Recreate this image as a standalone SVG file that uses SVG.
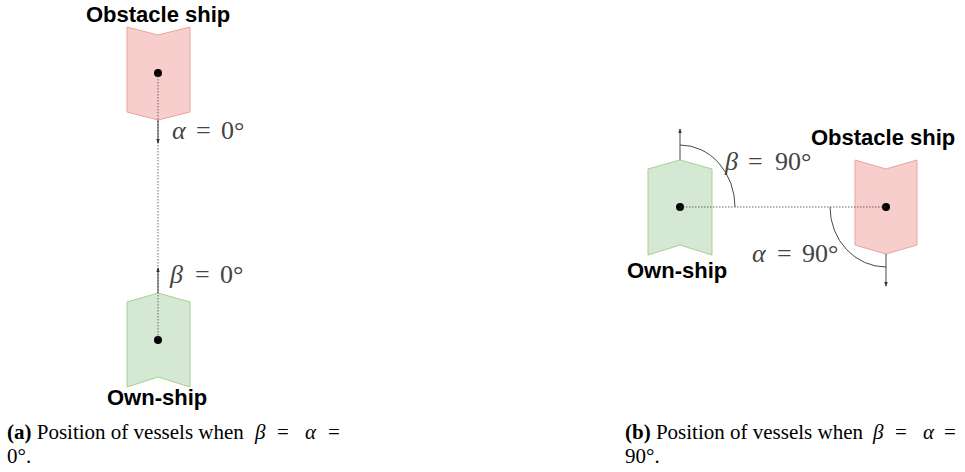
<svg xmlns="http://www.w3.org/2000/svg" width="965" height="472" viewBox="0 0 965 472">
<style>
.red{fill:#f8cecc;stroke:#e8a3a1;stroke-width:1}
.green{fill:#d5e8d4;stroke:#a9d08e;stroke-width:1}
.dot{fill:#000}
.dash{stroke:#444;stroke-width:0.8;stroke-dasharray:1.5 1.5;fill:none}
.ln{stroke:#333;stroke-width:0.9;fill:none}
.lbl{font-family:"Liberation Sans",Arial,sans-serif;font-weight:bold;font-size:22px;fill:#000}
.math{font-family:"Liberation Serif","DejaVu Serif",serif;font-size:26px;fill:#444}
.cap{font-family:"Liberation Serif","Times New Roman",serif;font-size:21px;fill:#000}
.it{font-style:italic}
</style>
<defs>
<marker id="ah" viewBox="0 0 6 6" refX="5" refY="3" markerWidth="5" markerHeight="5" orient="auto" markerUnits="userSpaceOnUse">
<path d="M0,0.8 L6,3 L0,5.2 Z" fill="#333"/>
</marker>
</defs>
<g id="obstacle-a">
<polygon class="red" points="127,27 158,35 190,27 190,112 158,120 127,112"/>
<circle class="dot" cx="158" cy="73" r="4"/>
<text class="lbl" x="86" y="22">Obstacle ship</text>
</g>
<g id="own-a">
<polygon class="green" points="127,302 158,293 190,302 190,387 158,377 127,387"/>
<circle class="dot" cx="158" cy="340" r="4"/>
<text class="lbl" x="107" y="405">Own-ship</text>
</g>
<g id="own-b">
<polygon class="green" points="648,169 680,160 712,169 712,255 680,245 648,255"/>
<circle class="dot" cx="680" cy="207" r="4"/>
<text class="lbl" x="627" y="278">Own-ship</text>
</g>
<g id="obstacle-b">
<polygon class="red" points="855,160 886,169 917,160 917,245 886,254 855,245"/>
<circle class="dot" cx="886" cy="207" r="4"/>
<text class="lbl" x="811" y="145">Obstacle ship</text>
</g>
<g id="connectors">
<line class="dash" x1="158" y1="73" x2="158" y2="340"/>
<line class="ln" x1="158" y1="120" x2="158" y2="143" marker-end="url(#ah)"/>
<line class="ln" x1="158" y1="293" x2="158" y2="268" marker-end="url(#ah)"/>
<line class="dash" x1="680" y1="207" x2="886" y2="207"/>
<line class="ln" x1="680" y1="160" x2="680" y2="129" marker-end="url(#ah)"/>
<line class="ln" x1="886" y1="254" x2="886" y2="286" marker-end="url(#ah)"/>
<path class="ln" d="M680,145 A55,62 0 0 1 735,207"/>
<path class="ln" d="M830,207 A56,60 0 0 0 886,267"/>
</g>
<g id="labels">
<text class="math" y="139"><tspan class="it" x="172">α</tspan><tspan x="196">=</tspan><tspan x="221">0°</tspan></text>
<text class="math" y="283"><tspan class="it" x="170">β</tspan><tspan x="195">=</tspan><tspan x="220">0°</tspan></text>
<text class="math" y="170"><tspan class="it" x="725">β</tspan><tspan x="748">=</tspan><tspan x="775">90°</tspan></text>
<text class="math" y="262"><tspan class="it" x="752">α</tspan><tspan x="777">=</tspan><tspan x="802">90°</tspan></text>
</g>
<g id="captions">
<text class="cap" y="439"><tspan x="7" font-weight="bold">(a)</tspan> Position of vessels when <tspan class="it" x="255">β</tspan><tspan x="277">=</tspan><tspan class="it" x="305">α</tspan><tspan x="328">=</tspan></text>
<text class="cap" x="7" y="463">0°.</text>
<text class="cap" y="439"><tspan x="625" font-weight="bold">(b)</tspan> Position of vessels when <tspan class="it" x="873">β</tspan><tspan x="895">=</tspan><tspan class="it" x="923">α</tspan><tspan x="944">=</tspan></text>
<text class="cap" x="625" y="463">90°.</text>
</g>
</svg>
